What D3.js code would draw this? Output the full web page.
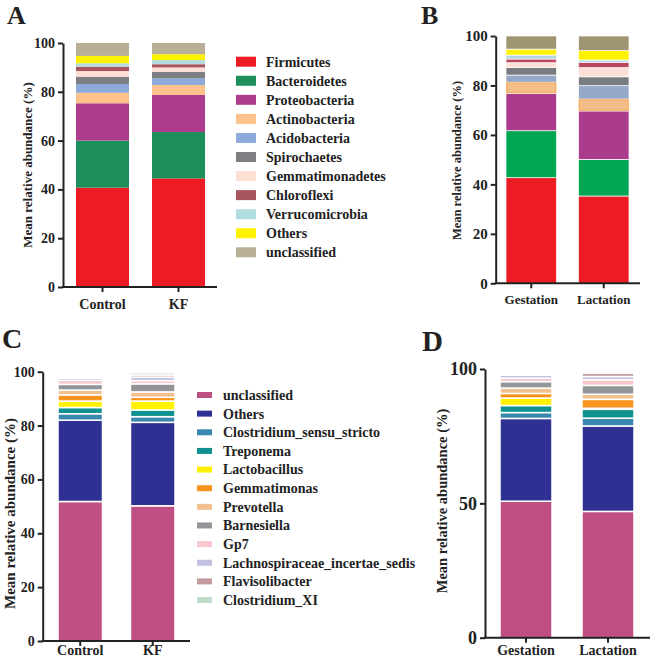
<!DOCTYPE html>
<html>
<head>
<meta charset="utf-8">
<script src="https://cdn.jsdelivr.net/npm/d3@7"></script>
<style>
  html, body { margin: 0; padding: 0; background: #fff; }
  svg text { font-family: "Liberation Serif", "Times New Roman", serif; font-weight: bold; fill: #222; }
</style>
</head>
<body>
<svg id="chart" width="650" height="659"></svg>
<script>
// ---------------- DATA ----------------
const phyla = ["Firmicutes", "Bacteroidetes", "Proteobacteria", "Actinobacteria", "Acidobacteria",
  "Spirochaetes", "Gemmatimonadetes", "Chloroflexi", "Verrucomicrobia", "Others", "unclassified"];
const phylaColorsA = ["#ED1C24", "#1D8F5B", "#AE3C8D", "#FDC18C", "#8DAADB", "#7E7F82",
  "#FDE0D5", "#A8555F", "#B2DCDF", "#FFF200", "#B9AF96"];
const phylaColorsB = ["#ED1C24", "#00A651", "#AB3C8D", "#F3BE8A", "#96A8C8", "#787B7F",
  "#FDE0D5", "#BC4860", "#B2D8DD", "#FFF200", "#A09571"];

const groupsA = ["Control", "KF"];
const phylaControl = [40.7, 19.3, 15.3, 4.3, 3.6, 3.0, 2.3, 1.8, 1.4, 3.0, 5.3];
const phylaKF = [44.5, 19.0, 15.2, 4.1, 2.7, 2.7, 1.8, 1.3, 1.7, 2.4, 4.6];

const groupsB = ["Gestation", "Lactation"];
const phylaGestation = [42.7, 19.0, 15.1, 4.5, 2.9, 3.0, 2.0, 1.5, 1.6, 2.4, 5.3];
const phylaLactation = [35.3, 14.8, 19.6, 4.8, 5.4, 3.6, 3.7, 2.2, 0.9, 3.8, 5.9];

const genera = ["unclassified", "Others", "Clostridium_sensu_stricto", "Treponema", "Lactobacillus",
  "Gemmatimonas", "Prevotella", "Barnesiella", "Gp7", "Lachnospiraceae_incertae_sedis",
  "Flavisolibacter", "Clostridium_XI"];
const generaColors = ["#BE4F82", "#2E3192", "#3A87AF", "#0F928F", "#FFF200", "#F7941D",
  "#F3C08F", "#939598", "#F8C8CE", "#C3C1E2", "#C49A9F", "#BFDCC9"];

const groupsC = ["Control", "KF"];
const generaControl = [51.8, 30.2, 2.4, 2.3, 2.4, 2.3, 1.8, 2.1, 1.5, 0.8, 0.4, 0.3];
const generaKF = [50.2, 31.0, 2.1, 2.5, 3.3, 1.4, 2.0, 3.0, 1.2, 1.3, 0.8, 0.8];

const groupsD = ["Gestation", "Lactation"];
const generaGestation = [50.8, 30.8, 2.2, 2.6, 2.8, 1.7, 2.0, 2.4, 1.3, 1.1, 0.2, 0.3];
const generaLactation = [47.0, 31.8, 2.9, 3.3, 0.4, 3.3, 1.9, 3.3, 2.1, 1.2, 1.3, 0.3];

const ticksAB = [0, 20, 40, 60, 80, 100];
const ticksC = [0, 20, 40, 60, 80, 100];
const ticksD = [0, 50, 100];
const yTitle = "Mean relative abundance (%)";

// ---------------- DRAW ----------------
const svg = d3.select("#chart");

function toRows(groups, keys, seriesList) {
  return groups.map((g, i) => {
    const row = { group: g };
    keys.forEach((k, j) => row[k] = seriesList[i][j]);
    return row;
  });
}

function panel(cfg) {
  const g = svg.append("g");
  const x = d3.scaleBand().domain(cfg.groups).range(cfg.barRange).paddingInner(cfg.padInner).paddingOuter(0);
  const y = d3.scaleLinear().domain([0, 100]).range([cfg.y0, cfg.y100]);
  const rows = toRows(cfg.groups, cfg.keys, cfg.series);
  const stacked = d3.stack().keys(cfg.keys)(rows);
  const color = d3.scaleOrdinal().domain(cfg.keys).range(cfg.colors);

  const cells = stacked.flatMap(layer => layer.map(v => ({ v, key: layer.key })));

  g.append("g").selectAll("rect").data(cells).join("rect")
    .attr("x", d => x(d.v.data.group))
    .attr("width", x.bandwidth())
    .attr("y", d => y(d.v[1]))
    .attr("height", d => Math.max(0, y(d.v[0]) - y(d.v[1])))
    .attr("fill", d => color(d.key))
    .attr("stroke", cfg.sep ? "#fff" : "none")
    .attr("stroke-width", cfg.sep || 0);

  // inner outline for highlighted keys
  if (cfg.outline) {
    g.append("g").selectAll("rect").data(cells.filter(d => cfg.outline[d.key])).join("rect")
      .attr("x", d => x(d.v.data.group) + 0.8)
      .attr("width", x.bandwidth() - 1.6)
      .attr("y", d => y(d.v[1]) + 0.8)
      .attr("height", d => Math.max(0, y(d.v[0]) - y(d.v[1]) - 1.6))
      .attr("fill", "none")
      .attr("stroke", d => cfg.outline[d.key])
      .attr("stroke-width", 1.2);
  }

  // y axis
  const yAxis = d3.axisLeft(y).tickValues(cfg.ticks).tickSize(5).tickSizeOuter(0).tickPadding(3);
  const ya = g.append("g").attr("transform", `translate(${cfg.axisX},0)`).call(yAxis);
  ya.select(".domain").attr("stroke", "#222").attr("stroke-width", 2);
  ya.selectAll(".tick line").attr("stroke", "#222").attr("stroke-width", 2);
  ya.selectAll(".tick text").style("font-size", cfg.tickFont + "px")
    .style("font-family", '"Liberation Serif", serif').style("font-weight", "bold").attr("fill", "#222");

  // x axis
  const xAxis = d3.axisBottom(x).tickSize(5).tickSizeOuter(0).tickPadding(4);
  const xa = g.append("g").attr("transform", `translate(0,${cfg.y0})`).call(xAxis);
  xa.select(".domain").remove();
  xa.append("line").attr("x1", cfg.axisX - 1).attr("x2", cfg.axisEnd).attr("y1", 0).attr("y2", 0)
    .attr("stroke", "#222").attr("stroke-width", 2);
  xa.selectAll(".tick line").attr("stroke", "#222").attr("stroke-width", 2);
  xa.selectAll(".tick text").style("font-size", cfg.xFont + "px")
    .style("font-family", '"Liberation Serif", serif').style("font-weight", "bold").attr("fill", "#222")
    .attr("y", null).attr("dy", null)
    .attr("transform", `translate(0,${cfg.xLabelBase - cfg.y0})`);

  // y title
  g.append("text")
    .attr("transform", `translate(${cfg.titleX},${cfg.titleY}) rotate(-90)`)
    .attr("text-anchor", "middle").attr("dy", "0.35em")
    .style("font-size", cfg.titleFont + "px")
    .text(yTitle);

  // panel letter
  g.append("text").attr("x", cfg.letterX).attr("y", cfg.letterY)
    .style("font-size", cfg.letterFont + "px").text(cfg.letter);

  // legend
  if (cfg.legend) {
    const L = cfg.legend;
    const lg = g.append("g");
    cfg.keys.forEach((k, i) => {
      const cy = L.y + i * L.step;
      lg.append("rect").attr("x", L.x).attr("y", cy - L.h / 2).attr("width", L.w).attr("height", L.h)
        .attr("fill", color(k));
      lg.append("text").attr("x", L.tx).attr("y", cy).attr("dy", "0.35em")
        .style("font-size", L.font + "px").text(k);
    });
  }
}

panel({
  letter: "A", letterX: 7, letterY: 24, letterFont: 26,
  groups: groupsA, keys: phyla, colors: phylaColorsA, series: [phylaControl, phylaKF],
  barRange: [76, 205], padInner: 0.3026, y0: 287, y100: 43, axisX: 63, axisEnd: 217,
  ticks: ticksAB, tickFont: 14, xFont: 14, xLabelBase: 309,
  titleX: 27, titleY: 165, titleFont: 13,
  legend: { x: 236, y: 61.7, step: 19.06, w: 20, h: 10, tx: 266, font: 14 }
});

panel({
  letter: "B", letterX: 421, letterY: 24, letterFont: 26,
  groups: groupsB, keys: phyla, colors: phylaColorsB, series: [phylaGestation, phylaLactation],
  barRange: [506, 629], padInner: 0.303, y0: 283.3, y100: 36, axisX: 495.7, axisEnd: 640,
  ticks: ticksAB, tickFont: 15, xFont: 13, xLabelBase: 304,
  titleX: 457, titleY: 160.5, titleFont: 12.5,
  sep: 0.7, outline: { "Actinobacteria": "#F7AE5C" }
});

panel({
  letter: "C", letterX: 2, letterY: 348, letterFont: 28,
  groups: groupsC, keys: genera, colors: generaColors, series: [generaControl, generaKF],
  barRange: [58, 175], padInner: 0.386, y0: 641, y100: 371.7, axisX: 42.7, axisEnd: 190,
  ticks: ticksC, tickFont: 14, xFont: 14, xLabelBase: 655,
  titleX: 9.5, titleY: 513.5, titleFont: 15,
  sep: 1.5,
  legend: { x: 197, y: 395, step: 18.64, w: 15, h: 6, tx: 223, font: 14 }
});

panel({
  letter: "D", letterX: 422, letterY: 351, letterFont: 29,
  groups: groupsD, keys: genera, colors: generaColors, series: [generaGestation, generaLactation],
  barRange: [500, 634], padInner: 0.366, y0: 637.7, y100: 369, axisX: 485, axisEnd: 650,
  ticks: ticksD, tickFont: 18, xFont: 14, xLabelBase: 655,
  titleX: 441.7, titleY: 501, titleFont: 14.5,
  sep: 1.5
});
</script>
</body>
</html>
